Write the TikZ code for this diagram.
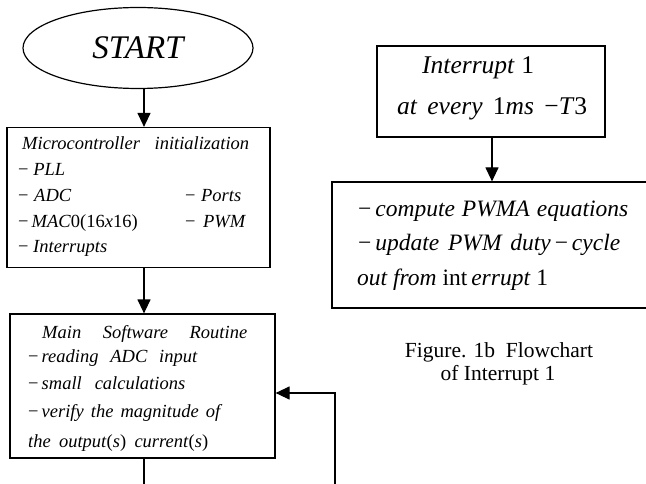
\documentclass[tikz,border=0pt]{standalone}
\usepackage{fontspec}
\setmainfont{Liberation Serif}
\usetikzlibrary{shapes.geometric,arrows.meta}
\newcommand\upr[1]{\textup{#1}}
\newcommand\mn{\textup{−}}
\newcommand\lne[2]{\makebox[#1][s]{#2}}
\tikzset{
  box/.style={draw,line width=1.2pt,inner sep=0pt},
  arr/.style={line width=1.2pt,-{Triangle[length=14pt,width=13pt]}},
  ln/.style={line width=1.2pt},
  txt/.style={anchor=base west,inner sep=0pt,font=\fontsize{18.5}{21}\selectfont\itshape},
  itxt/.style={anchor=base west,inner sep=0pt,font=\fontsize{25.5}{28}\selectfont\itshape},
  ctxt/.style={anchor=base west,inner sep=0pt,font=\fontsize{23.5}{26}\selectfont\itshape},
  captxt/.style={anchor=base,inner sep=0pt,font=\fontsize{21.5}{23}\selectfont},
}
\begin{document}
\begin{tikzpicture}[x=1pt,y=-1pt]
\useasboundingbox (0,0) rectangle (646,484);
% shapes
\node[box,ellipse,minimum width=230pt,minimum height=81pt,font=\fontsize{33}{33}\selectfont\itshape] (start) at (138,48) {START};
\node[box,minimum width=263pt,minimum height=140pt] (init) at (138.5,197.5) {};
\node[box,minimum width=265pt,minimum height=144pt] (main) at (142.5,386) {};
\node[box,minimum width=228pt,minimum height=91pt] (intr) at (491,91.5) {};
\node[box,minimum width=316pt,minimum height=126pt] (comp) at (490,245) {};
% connector anchors
\coordinate (ax) at (144,0);
\coordinate (bx) at (492,0);
\coordinate (mb) at (144,484);
\coordinate (fb) at (335,484);
\coordinate (fc) at (335,393);
\draw[arr] (start.south -| ax) -- (init.north -| ax);
\draw[arr] (init.south -| ax) -- (main.north -| ax);
\draw[ln] (main.south -| ax) -- (mb);
\draw[arr] (fb) -- (fc) -- (fc -| main.east);
\draw[arr] (intr.south -| bx) -- (comp.north -| bx);
% init text
\node[txt] (i1) at (22,150) {\lne{227pt}{Microcontroller\ \ initialization}};
\node[txt] (i2) at (18,176) {\lne{47pt}{\mn\ PLL}};
\node[txt] (i3) at (18,202) {\lne{53pt}{\mn\ ADC}};
\node[txt] (i4) at (18,228) {\mn\,MAC\upr{0(16}x\upr{16)}};
\node[txt] (i5) at (18,253) {\lne{89pt}{\mn\ Interrupts}};
\node[txt] (i6) at (185,202) {\lne{56pt}{\mn\ Ports}};
\node[txt] (i7) at (185,228) {\lne{60pt}{\mn\ PWM}};
% main text
\node[txt] (m1) at (42,338) {\lne{205pt}{Main Software Routine}};
\node[txt] (m2) at (28,362) {\lne{169pt}{\mn\,reading ADC input}};
\node[txt] (m3) at (28,389) {\lne{157pt}{\mn\,small calculations}};
\node[txt] (m4) at (28,417) {\lne{192pt}{\mn\,verify the magnitude of}};
\node[txt] (m5) at (28,447) {\lne{180pt}{the output\upr{(}s\upr{)} current\upr{(}s\upr{)}}};
% interrupt text
\node[itxt] (n1) at (422,74) {\lne{112pt}{Interrupt \upr{1}}};
\node[itxt] (n2) at (397,115) {\lne{190pt}{at every \upr{1}ms \mn T\upr{3}}};
% compute text
\node[ctxt] (c1) at (358,217) {\lne{270pt}{\mn\,compute PWMA equations}};
\node[ctxt] (c2) at (358,251) {\lne{262pt}{\mn\,update PWM duty\,\mn\,cycle}};
\node[ctxt] (c3) at (357,285) {\lne{191pt}{out from \upr{int}\,errupt \upr{1}}};
% caption
\node[captxt] (f1) at (499,357) {Figure. 1b\ \ Flowchart};
\node[captxt] (f2) at (498,380) {of Interrupt 1};
\end{tikzpicture}
\end{document}
